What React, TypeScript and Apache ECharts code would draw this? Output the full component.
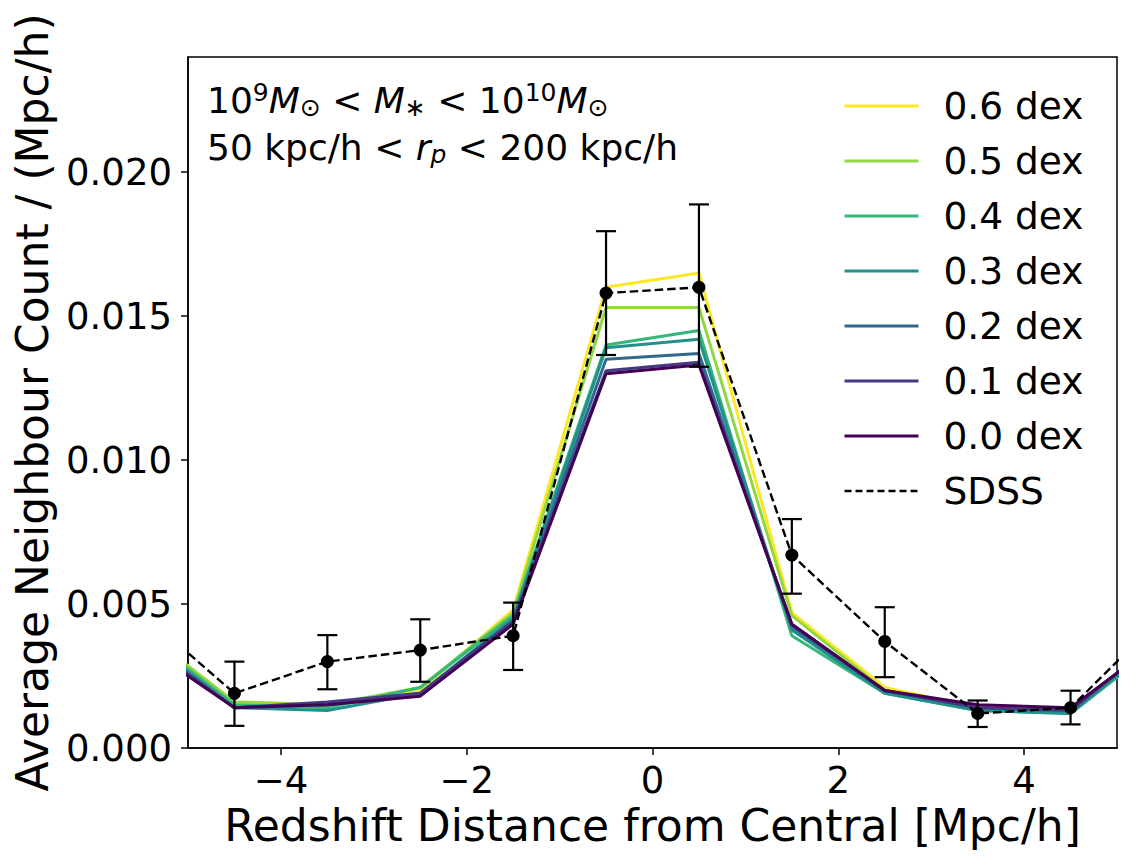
import React, { useEffect, useRef } from "react";
import * as echarts from "echarts";

// Bin centres of the redshift-distance histogram [Mpc/h]
const binCentres = [-5.5, -4.5, -3.5, -2.5, -1.5, -0.5, 0.5, 1.5, 2.5, 3.5, 4.5, 5.5];

// Model curves: average neighbour count per Mpc/h for each scatter level
const modelLabels = ["0.6 dex", "0.5 dex", "0.4 dex", "0.3 dex", "0.2 dex", "0.1 dex", "0.0 dex"];
const dex06 = [0.0041, 0.0016, 0.0015, 0.002, 0.0048, 0.016, 0.0165, 0.0047, 0.0021, 0.0014, 0.0013, 0.0038];
const dex05 = [0.0041, 0.0016, 0.0015, 0.0021, 0.0047, 0.0153, 0.0153, 0.0046, 0.002, 0.0014, 0.0013, 0.0038];
const dex04 = [0.004, 0.0015, 0.0014, 0.0021, 0.0046, 0.014, 0.0145, 0.0039, 0.0019, 0.0013, 0.0012, 0.0037];
const dex03 = [0.0039, 0.0014, 0.0013, 0.0019, 0.0045, 0.0139, 0.0142, 0.0041, 0.0019, 0.0013, 0.0012, 0.0038];
const dex02 = [0.0038, 0.0014, 0.0015, 0.0019, 0.0044, 0.0135, 0.0137, 0.0042, 0.002, 0.0014, 0.0013, 0.0039];
const dex01 = [0.0037, 0.0014, 0.0016, 0.0019, 0.0044, 0.0131, 0.0134, 0.0043, 0.002, 0.0014, 0.0013, 0.0039];
const dex00 = [0.0036, 0.0014, 0.0015, 0.0018, 0.0043, 0.013, 0.0133, 0.0043, 0.002, 0.0015, 0.0014, 0.0038];
const modelValues = [dex06, dex05, dex04, dex03, dex02, dex01, dex00];
const modelColors = ["#fde725", "#90d743", "#35b779", "#21918c", "#31688e", "#443983", "#440154"];

// SDSS measurement with its error range (outer bins carry no error bar)
const sdssCounts = [0.0047, 0.0019, 0.003, 0.0034, 0.0039, 0.0158, 0.016, 0.0067, 0.0037, 0.0012, 0.0014, 0.0046];
const sdssLower = [null, 0.00077, 0.00204, 0.0023, 0.00271, 0.01365, 0.01324, 0.00536, 0.00246, 0.00073, 0.00082, null];
const sdssUpper = [null, 0.003, 0.00392, 0.00447, 0.00505, 0.01795, 0.01888, 0.00795, 0.00489, 0.00165, 0.00199, null];

const xTicks = [-4, -2, 0, 2, 4];
const yTicks = [0, 0.005, 0.01, 0.015, 0.02];

const FONT = "DejaVu Sans";

export default function App() {
  const ref = useRef<HTMLDivElement>(null);

  useEffect(() => {
    if (!ref.current) return;
    const chart = echarts.init(ref.current, undefined, { renderer: "svg" });

    const errorData: number[][] = [];
    const pointData: number[][] = [];
    binCentres.forEach((x, i) => {
      const lo = sdssLower[i];
      const hi = sdssUpper[i];
      if (lo !== null && hi !== null) {
        errorData.push([x, lo, hi]);
        pointData.push([x, sdssCounts[i]]);
      }
    });

    const modelSeries = modelLabels.map((name, k) => ({
      name,
      type: "line",
      data: binCentres.map((x, i) => [x, modelValues[k][i]]),
      symbol: "none",
      clip: true,
      z: 2,
      lineStyle: { color: modelColors[k], width: 3 },
      itemStyle: { color: modelColors[k] },
    }));

    const legendData = [
      ...modelLabels.map((name, k) => ({
        name,
        lineStyle: { color: modelColors[k], width: 3, type: "solid" },
      })),
      { name: "SDSS", lineStyle: { color: "#000", width: 2.4, type: [7, 4] } },
    ];

    const base = { fontFamily: FONT, fontSize: 36, lineHeight: 40, fill: "#000" };
    const small = { fontFamily: FONT, fontSize: 25, lineHeight: 20, fill: "#000" };

    const option: any = {
      animation: false,
      backgroundColor: "#ffffff",
      textStyle: { fontFamily: FONT, color: "#000" },
      grid: {
        left: 188,
        top: 57,
        width: 929,
        height: 691,
        show: true,
        borderColor: "#000",
        borderWidth: 1.5,
        backgroundColor: "transparent",
      },
      legend: {
        orient: "vertical",
        left: 838,
        top: 82,
        itemWidth: 74,
        itemHeight: 14,
        itemGap: 17,
        itemStyle: { opacity: 0 },
        data: legendData,
        textStyle: {
          fontFamily: FONT,
          fontSize: 37.5,
          lineHeight: 38,
          color: "#000",
          padding: [0, 0, 0, 20],
        },
      },
      xAxis: {
        type: "value",
        min: -5,
        max: 5,
        name: "Redshift Distance from Central [Mpc/h]",
        nameLocation: "middle",
        nameGap: 54,
        nameTextStyle: { fontFamily: FONT, fontSize: 44, color: "#000" },
        splitLine: { show: false },
        axisLine: { show: true, onZero: false, lineStyle: { color: "#000", width: 1.5 } },
        axisTick: {
          show: true,
          inside: false,
          length: 7,
          lineStyle: { color: "#000", width: 1.5 },
          customValues: xTicks,
        },
        axisLabel: {
          fontFamily: FONT,
          fontSize: 37,
          color: "#000",
          margin: 14,
          customValues: xTicks,
          formatter: (v: number) => (v < 0 ? "\u2212" + Math.abs(v) : String(v)),
        },
      },
      yAxis: {
        type: "value",
        min: 0,
        max: 0.024,
        name: "Average Neighbour Count / (Mpc/h)",
        nameLocation: "middle",
        nameGap: 134,
        nameTextStyle: { fontFamily: FONT, fontSize: 44, color: "#000" },
        splitLine: { show: false },
        axisLine: { show: true, onZero: false, lineStyle: { color: "#000", width: 1.5 } },
        axisTick: {
          show: true,
          inside: false,
          length: 7,
          lineStyle: { color: "#000", width: 1.5 },
          customValues: yTicks,
        },
        axisLabel: {
          fontFamily: FONT,
          fontSize: 37,
          color: "#000",
          margin: 16,
          customValues: yTicks,
          formatter: (v: number) => v.toFixed(3),
        },
      },
      series: [
        ...modelSeries,
        {
          name: "SDSS",
          type: "line",
          data: binCentres.map((x, i) => [x, sdssCounts[i]]),
          symbol: "none",
          clip: true,
          z: 3,
          lineStyle: { color: "#000", width: 2.4, type: [8.5, 4] },
          itemStyle: { color: "#000" },
        },
        {
          name: "SDSS error",
          type: "custom",
          z: 4,
          clip: true,
          data: errorData,
          renderItem: (params: any, api: any) => {
            const x = api.value(0);
            const lo = api.coord([x, api.value(1)]);
            const hi = api.coord([x, api.value(2)]);
            const cap = 10;
            const style = { stroke: "#000", lineWidth: 2.2 };
            return {
              type: "group",
              children: [
                { type: "line", shape: { x1: lo[0], y1: lo[1], x2: hi[0], y2: hi[1] }, style },
                { type: "line", shape: { x1: lo[0] - cap, y1: lo[1], x2: lo[0] + cap, y2: lo[1] }, style },
                { type: "line", shape: { x1: hi[0] - cap, y1: hi[1], x2: hi[0] + cap, y2: hi[1] }, style },
              ],
            };
          },
        },
        {
          name: "SDSS points",
          type: "scatter",
          z: 5,
          clip: true,
          data: pointData,
          symbol: "circle",
          symbolSize: 13,
          itemStyle: { color: "#000", opacity: 1 },
        },
      ],
      graphic: [
        {
          type: "text",
          left: 207,
          top: 80,
          style: {
            text: "{n|10}{sup|9}{it|M}{sub|\u2299}{n| < }{it|M}{sub|\u2217}{n| < 10}{sup|10}{it|M}{sub|\u2299}",
            fontFamily: FONT,
            fill: "#000",
            rich: {
              n: { ...base },
              it: { ...base, fontStyle: "italic" },
              sup: { ...small, verticalAlign: "top" },
              sub: { ...small, verticalAlign: "bottom" },
            },
          },
        },
        {
          type: "text",
          left: 207,
          top: 129,
          style: {
            text: "{n|50 kpc/h < }{it|r}{sub|p}{n| < 200 kpc/h}",
            fontFamily: FONT,
            fill: "#000",
            rich: {
              n: { ...base },
              it: { ...base, fontStyle: "italic" },
              sub: { ...small, verticalAlign: "bottom", fontStyle: "italic" },
            },
          },
        },
      ],
    };

    chart.setOption(option);
    return () => chart.dispose();
  }, []);

  return (
    <div
      ref={ref}
      style={{ position: "fixed", left: 0, top: 0, width: 1140, height: 867, background: "#fff" }}
    />
  );
}
